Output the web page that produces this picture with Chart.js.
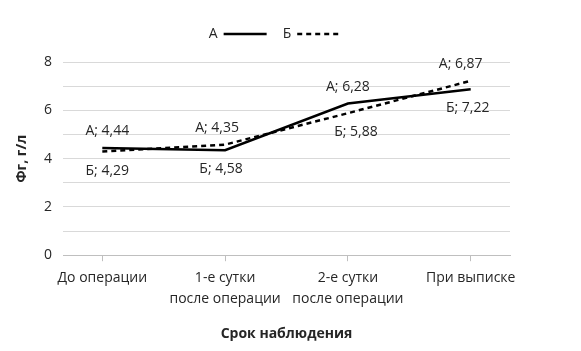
<!DOCTYPE html>
<html>
<head>
<meta charset="utf-8">
<script src="https://cdn.jsdelivr.net/npm/chart.js@4"></script>
<style>
    html, body { margin: 0; padding: 0; background: #fff; }
    #wrap { width: 581px; height: 351px; }
</style>
</head>
<body>
<div id="wrap"><canvas id="chart"></canvas></div>
<script>
// Chart data
const categories = [['До операции'], ['1-е сутки', 'после операции'], ['2-е сутки', 'после операции'], ['При выписке']];
const seriesA = [4.44, 4.35, 6.28, 6.87];
const seriesB = [4.29, 4.58, 5.88, 7.22];
const seriesNames = ['А', 'Б'];
const yTicks = [0, 2, 4, 6, 8];

const FONT = "'Open Sans', sans-serif";
const TEXT = '#262626';

function fmt(v) {
    return v.toFixed(2).replace('.', ',');
}

// data labels: A above the pair, Б below the pair
const pointLabels = {
    id: 'pointLabels',
    afterDatasetsDraw(chart, args, opts) {
        const ctx = chart.ctx;
        const a = chart.getDatasetMeta(0).data;
        const b = chart.getDatasetMeta(1).data;
        ctx.save();
        ctx.font = '14px ' + FONT;
        ctx.fillStyle = TEXT;
        ctx.textAlign = 'center';
        ctx.textBaseline = 'middle';
        for (let i = 0; i < a.length; i++) {
            const top = Math.min(a[i].y, b[i].y);
            const bottom = Math.max(a[i].y, b[i].y);
            ctx.fillText(seriesNames[0] + '; ' + fmt(seriesA[i]), a[i].x + opts.nudgeA[i], top - 17);
            ctx.fillText(seriesNames[1] + '; ' + fmt(seriesB[i]), b[i].x + opts.nudgeB[i], bottom + 19);
        }
        ctx.restore();
    }
};

// legend with the text before the line sample
const textLegend = {
    id: 'textLegend',
    afterDraw(chart) {
        const ctx = chart.ctx;
        const y = 34;
        const sample = 43;
        ctx.save();
        ctx.font = '14px ' + FONT;
        ctx.fillStyle = TEXT;
        ctx.textBaseline = 'middle';
        const widths = seriesNames.map(n => ctx.measureText(n).width + 6 + sample);
        const gap = 16;
        const total = widths[0] + widths[1] + gap;
        let x = (chart.chartArea.left + chart.chartArea.right) / 2 - total / 2 - 12;
        chart.data.datasets.forEach((ds, i) => {
            ctx.fillText(seriesNames[i], x, y);
            const lx = x + ctx.measureText(seriesNames[i]).width + 6;
            ctx.beginPath();
            ctx.strokeStyle = ds.borderColor;
            ctx.lineWidth = ds.borderWidth;
            ctx.setLineDash(ds.borderDash || []);
            ctx.moveTo(lx, y);
            ctx.lineTo(lx + sample, y);
            ctx.stroke();
            x += widths[i] + gap;
        });
        ctx.restore();
    }
};

const ctx = document.getElementById('chart').getContext('2d');
new Chart(ctx, {
    type: 'line',
    data: {
        datasets: [
            {
                label: seriesNames[0],
                data: seriesA.map((v, i) => ({ x: i, y: v })),
                borderColor: '#000000',
                borderWidth: 2.5,
                pointRadius: 0,
                tension: 0
            },
            {
                label: seriesNames[1],
                data: seriesB.map((v, i) => ({ x: i, y: v })),
                borderColor: '#000000',
                borderWidth: 2.5,
                borderDash: [5, 4],
                pointRadius: 0,
                tension: 0
            }
        ]
    },
    options: {
        responsive: true,
        maintainAspectRatio: false,
        animation: false,
        layout: {
            padding: { top: 62, right: 71, left: 10, bottom: 5 }
        },
        plugins: {
            legend: { display: false },
            tooltip: { enabled: false },
            pointLabels: {
                nudgeA: [5, -8, 0, -10],
                nudgeB: [5, -4, 8, -3]
            }
        },
        scales: {
            x: {
                type: 'linear',
                min: -0.32,
                max: 3.32,
                afterBuildTicks: (axis) => {
                    axis.ticks = categories.map((c, i) => ({ value: i }));
                },
                grid: {
                    drawOnChartArea: false,
                    color: '#bfbfbf',
                    tickLength: 6
                },
                border: { color: '#bfbfbf' },
                ticks: {
                    font: { family: FONT, size: 14, lineHeight: 1.5 },
                    color: TEXT,
                    maxRotation: 0,
                    autoSkip: false,
                    padding: 6,
                    callback: (v) => categories[v]
                },
                title: {
                    display: true,
                    text: 'Срок наблюдения',
                    font: { family: FONT, size: 14, weight: 'bold' },
                    color: TEXT,
                    padding: { top: 10 }
                }
            },
            y: {
                min: 0,
                max: 8,
                afterBuildTicks: (axis) => {
                    axis.ticks = [0, 1, 2, 3, 4, 5, 6, 7, 8].map(v => ({ value: v }));
                },
                afterFit: (axis) => {
                    axis.width = 53;
                },
                grid: {
                    color: '#d9d9d9',
                    drawTicks: false
                },
                border: { display: false },
                ticks: {
                    font: { family: FONT, size: 14 },
                    color: TEXT,
                    padding: 11,
                    callback: (v) => yTicks.includes(v) ? v : ''
                },
                title: {
                    display: true,
                    text: 'Фг, г/л',
                    font: { family: FONT, size: 14, weight: 'bold' },
                    color: TEXT,
                    padding: { bottom: 6 }
                }
            }
        }
    },
    plugins: [pointLabels, textLegend]
});
</script>
</body>
</html>
